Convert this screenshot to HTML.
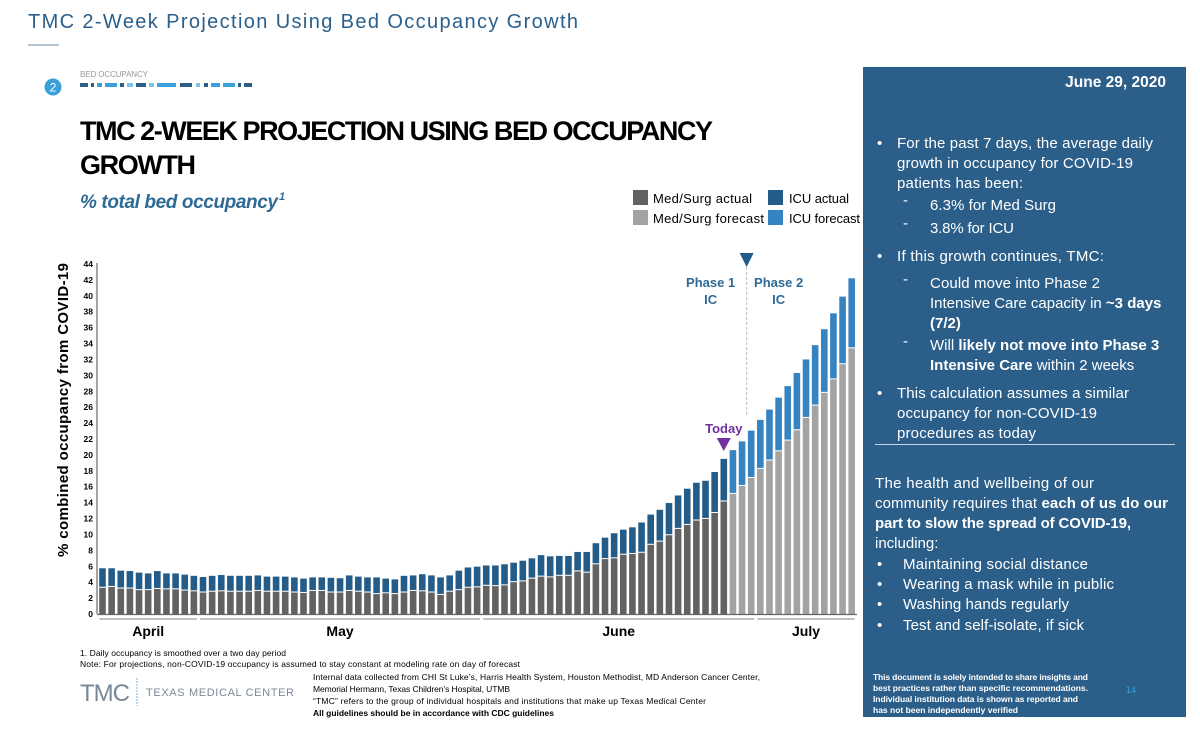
<!DOCTYPE html>
<html><head><meta charset="utf-8"><style>
body{margin:0;background:#fff;}
svg{display:block;font-family:"Liberation Sans",sans-serif;}
</style></head><body>
<svg width="1200" height="741" viewBox="0 0 1200 741" xmlns="http://www.w3.org/2000/svg">
<text x="28" y="28" font-size="20" fill="#2a5f8c" textLength="550">TMC 2-Week Projection Using Bed Occupancy Growth</text>
<line x1="28" y1="45" x2="59" y2="45" stroke="#9bb0c4" stroke-width="1.5"/>
<circle cx="53" cy="87" r="8.5" fill="#3aa0dc"/>
<text x="53" y="91.5" font-size="12" fill="#fff" text-anchor="middle">2</text>
<text x="80" y="77" font-size="8" fill="#999" textLength="68">BED OCCUPANCY</text>
<g id="dashbar"></g>
<text x="80" y="140" font-size="27" font-weight="bold" fill="#000" textLength="633">TMC 2-WEEK PROJECTION USING BED OCCUPANCY</text>
<text x="80" y="174" font-size="27" font-weight="bold" fill="#000" textLength="116">GROWTH</text>
<text x="80" y="208" font-size="19" font-weight="bold" font-style="italic" fill="#2e6a96" textLength="198">% total bed occupancy</text>
<text x="279" y="200" font-size="11" font-weight="bold" font-style="italic" fill="#2e6a96">1</text>

<g>
<rect x="633" y="190" width="15" height="15" fill="#626262"/>
<text x="653" y="203" font-size="13" fill="#000" textLength="99">Med/Surg actual</text>
<rect x="633" y="210" width="15" height="15" fill="#a3a3a3"/>
<text x="653" y="223" font-size="13" fill="#000" textLength="111">Med/Surg forecast</text>
<rect x="768" y="190" width="15" height="15" fill="#245c89"/>
<text x="789" y="203" font-size="13" fill="#000" textLength="60">ICU actual</text>
<rect x="768" y="210" width="15" height="15" fill="#3683c2"/>
<text x="789" y="223" font-size="13" fill="#000" textLength="71">ICU forecast</text>
</g>

<text transform="translate(68,410) rotate(-90)" font-size="15" font-weight="bold" fill="#000" text-anchor="middle" textLength="294">% combined occupancy from COVID-19</text>
<g id="chart"></g>

<g>
<rect x="863" y="67" width="323" height="650" fill="#2b5f8a"/>
<g fill="#fff" font-size="15">
<text x="1166" y="87" font-weight="bold" text-anchor="end" font-size="15.5">June 29, 2020</text>
<text x="877" y="148">•</text>
<text x="897" y="148" textLength="256">For the past 7 days, the average daily</text>
<text x="897" y="168" textLength="236">growth in occupancy for COVID-19</text>
<text x="897" y="188" textLength="126">patients has been:</text>
<text x="903" y="205">-</text>
<text x="930" y="210" textLength="126">6.3% for Med Surg</text>
<text x="903" y="228">-</text>
<text x="930" y="233" textLength="84">3.8% for ICU</text>
<text x="877" y="261">•</text>
<text x="897" y="261" textLength="207">If this growth continues, TMC:</text>
<text x="903" y="284">-</text>
<text x="930" y="288" textLength="170">Could move into Phase 2</text>
<text x="930" y="308">Intensive Care capacity in <tspan font-weight="bold">~3 days</tspan></text>
<text x="930" y="328" font-weight="bold">(7/2)</text>
<text x="903" y="346">-</text>
<text x="930" y="350">Will <tspan font-weight="bold">likely not move into Phase 3</tspan></text>
<text x="930" y="370"><tspan font-weight="bold">Intensive Care</tspan> within 2 weeks</text>
<text x="877" y="398">•</text>
<text x="897" y="398" textLength="232">This calculation assumes a similar</text>
<text x="897" y="418" textLength="200">occupancy for non-COVID-19</text>
<text x="897" y="438" textLength="139">procedures as today</text>
</g>
<line x1="875" y1="444.5" x2="1175" y2="444.5" stroke="#c8d6e2" stroke-width="1"/>
<g fill="#fff" font-size="15">
<text x="875" y="488" textLength="219">The health and wellbeing of our</text>
<text x="875" y="508" textLength="293">community requires that <tspan font-weight="bold">each of us do our</tspan></text>
<text x="875" y="528" font-weight="bold" textLength="256">part to slow the spread of COVID-19,</text>
<text x="875" y="548">including:</text>
<text x="877" y="569">•</text>
<text x="903" y="569" textLength="185">Maintaining social distance</text>
<text x="877" y="589">•</text>
<text x="903" y="589" textLength="211">Wearing a mask while in public</text>
<text x="877" y="609">•</text>
<text x="903" y="609" textLength="166">Washing hands regularly</text>
<text x="877" y="630">•</text>
<text x="903" y="630" textLength="181">Test and self-isolate, if sick</text>
</g>
<g fill="#fff" font-size="8.5" font-weight="bold">
<text x="873" y="680" textLength="215">This document is solely intended to share insights and</text>
<text x="873" y="691" textLength="215">best practices rather than specific recommendations.</text>
<text x="873" y="702" textLength="205">Individual institution data is shown as reported and</text>
<text x="873" y="713" textLength="145">has not been independently verified</text>
</g>
<text x="1126" y="693" font-size="9" fill="#3aa0dc">14</text>
</g>

<g fill="#000" font-size="8.5">
<text x="80" y="656" textLength="206">1.    Daily occupancy is smoothed over a two day period</text>
<text x="80" y="667" textLength="440">Note: For projections, non-COVID-19 occupancy is assumed to stay constant at modeling rate on day of forecast</text>
<text x="313" y="680" textLength="447">Internal data collected from CHI St Luke’s, Harris Health System, Houston Methodist, MD Anderson Cancer Center,</text>
<text x="313" y="692" textLength="197">Memorial Hermann, Texas Children’s Hospital, UTMB</text>
<text x="313" y="704" textLength="393">“TMC” refers to the group of individual hospitals and institutions that make up Texas Medical Center</text>
<text x="313" y="716" font-weight="bold" textLength="241">All guidelines should be in accordance with CDC guidelines</text>
</g>
<text x="80" y="701" font-size="24" fill="#7a8896" textLength="50">TMC</text>
<line x1="137" y1="678" x2="137" y2="706" stroke="#7fb4dc" stroke-width="1" stroke-dasharray="2,1"/>
<text x="146" y="696" font-size="11" fill="#7a8896" textLength="148">TEXAS MEDICAL CENTER</text>
</svg>
<script>
var medSurg = [3.3,3.4,3.2,3.2,3.0,3.0,3.15,3.1,3.1,2.95,2.85,2.7,2.8,2.85,2.8,2.8,2.8,2.9,2.8,2.8,2.8,2.7,2.65,2.9,2.9,2.7,2.7,2.9,2.8,2.7,2.5,2.6,2.5,2.7,2.9,2.85,2.7,2.4,2.8,
3.0,3.3,3.35,3.55,3.5,3.6,4.0,4.1,4.45,4.7,4.6,4.8,4.8,5.35,5.2,6.25,6.9,7.0,7.45,7.55,7.7,8.7,9.1,9.9,10.7,11.2,11.75,11.95,12.7,14.15,
15.1,16.1,17.1,18.25,19.3,20.45,21.8,23.1,24.65,26.2,27.8,29.5,31.4,33.4];
var total = [5.75,5.75,5.45,5.4,5.2,5.1,5.4,5.1,5.1,4.95,4.8,4.65,4.8,4.9,4.8,4.8,4.8,4.85,4.7,4.7,4.7,4.6,4.45,4.6,4.6,4.55,4.5,4.85,4.7,4.6,4.6,4.45,4.35,4.8,4.85,5.0,4.85,4.6,4.85,
5.45,5.85,5.95,6.1,6.1,6.25,6.45,6.7,7.0,7.4,7.25,7.3,7.3,7.8,7.8,8.9,9.6,10.15,10.6,10.9,11.5,12.5,13.1,13.95,14.9,15.75,16.5,16.75,17.85,19.5,
20.6,21.7,23.05,24.4,25.7,27.2,28.65,30.3,32.0,33.8,35.8,37.8,39.9,42.2];
var actualCount = 69;
var yTicks = [0,2,4,6,8,10,12,14,16,18,20,22,24,26,28,30,32,34,36,38,40,42,44];
var months = ["April","May","June","July"];
var monthStart = [0,11,42,72];
var monthEnd = [10,41,71,82];

var NS="http://www.w3.org/2000/svg";
var g=document.getElementById('chart');
var X0=102.5, PITCH=(851.7-102.5)/82, BW=6.6, Y0=614, YS=350/44;
function xc(i){return X0+i*PITCH;}
function y(v){return Y0-v*YS;}
function mk(tag,attrs,parent){var e=document.createElementNS(NS,tag);for(var k in attrs)e.setAttribute(k,attrs[k]);(parent||g).appendChild(e);return e;}

yTicks.forEach(function(t){
  var e=mk('text',{x:93,y:y(t)+3,'font-size':8.5,'font-weight':'bold','text-anchor':'end',fill:'#000'});
  e.textContent=t;
  
  
});
var ax=mk('line',{x1:97,y1:263,x2:97,y2:Y0,stroke:'#666','stroke-width':1.2});



for(var i=0;i<total.length;i++){
  var act=i<actualCount;
  var r1=mk('rect',{x:xc(i)-BW/2,y:y(medSurg[i]),width:BW,height:medSurg[i]*YS,fill:act?'#626262':'#a3a3a3'});
  
  
  var r2=mk('rect',{x:xc(i)-BW/2,y:y(total[i]),width:BW,height:(total[i]-medSurg[i])*YS-1,fill:act?'#245c89':'#3683c2'});
  
  
}
var base=mk('line',{x1:97,y1:Y0+0.5,x2:857,y2:Y0+0.5,stroke:'#666','stroke-width':1.2});



months.forEach(function(m,k){
  var a=xc(monthStart[k])-3, b=xc(monthEnd[k])+3;
  var l=mk('line',{x1:a,y1:619,x2:b,y2:619,stroke:'#aaa','stroke-width':1.5});
  
  
  var t=mk('text',{x:(a+b)/2,y:636,'font-size':14,'font-weight':'bold','text-anchor':'middle',fill:'#000'});
  t.textContent=m;
  
  
});

// Today marker
var ti=actualCount-1, tx=xc(ti);
var tt=mk('text',{x:tx,y:433,'font-size':13,'font-weight':'bold','text-anchor':'middle',fill:'#7030a0'});
tt.textContent='Today';


var tp=mk('polygon',{points:(tx-7)+',438 '+(tx+7)+',438 '+tx+',451',fill:'#7030a0'});



// Phase line between bars
var px=(xc(ti+2)+xc(ti+3))/2;
var pl=mk('line',{x1:px,y1:262,x2:px,y2:416,stroke:'#bbb','stroke-width':1,'stroke-dasharray':'3,2'});


var pt=mk('polygon',{points:(px-7)+',253 '+(px+7)+',253 '+px+',267',fill:'#245c89'});


[['Phase 1',px-36,287],['IC',px-36,304],['Phase 2',px+32,287],['IC',px+32,304]].forEach(function(d){
  var e=mk('text',{x:d[1],y:d[2],'font-size':13,'font-weight':'bold','text-anchor':'middle',fill:'#2e6a96'});
  e.textContent=d[0];
  
  
});

// decorative dash bar
var db=document.getElementById('dashbar');
var segs=[[80,8,'#2b5f8a'],[91,3,'#2b5f8a'],[97,5,'#3aa0dc'],[105,12,'#3aa0dc'],[120,4,'#2b5f8a'],[127,6,'#7fc4e6'],[136,10,'#2b5f8a'],[149,5,'#7fc4e6'],[157,19,'#3aa0dc'],[180,12,'#2b5f8a'],[196,4,'#7fc4e6'],[204,4,'#2b5f8a'],[211,9,'#3aa0dc'],[223,12,'#3aa0dc'],[238,3,'#2b5f8a'],[244,8,'#2b5f8a']];
segs.forEach(function(s){
  var e=mk('rect',{x:s[0],y:83,width:s[1],height:4,fill:s[2]},db);
  
  
});
</script>
</body></html>
